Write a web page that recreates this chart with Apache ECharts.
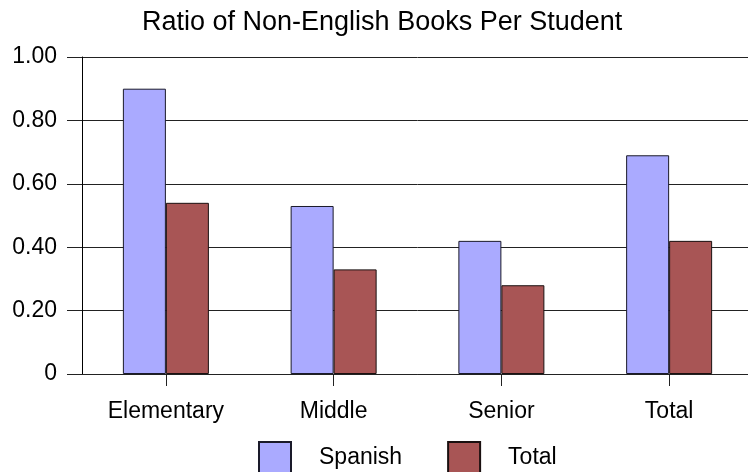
<!DOCTYPE html>
<html>
<head>
<meta charset="utf-8">
<script src="https://cdn.jsdelivr.net/npm/echarts@6/dist/echarts.min.js"></script>
<style>
  html, body { margin: 0; padding: 0; background: #ffffff; overflow: hidden; }
  /* canvas is a little wider than the page so the plot runs off the right edge */
  #chart { width: 753px; height: 472px; }
</style>
</head>
<body>
<div id="chart"></div>
<script>
// School levels along the x axis
const categories = ['Elementary', 'Middle', 'Senior', 'Total'];
// Ratio of non-English books per student
const spanishValues = [0.90, 0.53, 0.42, 0.69];
const totalValues = [0.54, 0.33, 0.28, 0.42];
const seriesNames = ['Spanish', 'Total'];
const chartTitle = 'Ratio of Non-English Books Per Student';

const FONT = '"Liberation Sans", Arial, sans-serif';

const chart = echarts.init(document.getElementById('chart'), null, { renderer: 'canvas' });

chart.setOption({
  animation: false,
  backgroundColor: '#ffffff',
  title: {
    text: chartTitle,
    left: 142,
    top: 9,
    padding: 0,
    textStyle: { fontFamily: FONT, fontSize: 27, fontWeight: 'normal', color: '#000000' }
  },
  legend: {
    data: seriesNames,
    left: 258,
    top: 441,
    padding: 0,
    itemWidth: 32,
    itemHeight: 32,
    itemGap: 45,
    icon: 'rect',
    textStyle: { fontFamily: FONT, fontSize: 23, color: '#000000', padding: [0, 0, 0, 23] }
  },
  grid: { left: 82, right: 0, top: 57, bottom: 98, containLabel: false },
  xAxis: {
    type: 'category',
    data: categories,
    boundaryGap: true,
    axisLine: { show: true, lineStyle: { color: '#222222', width: 1 } },
    axisTick: { show: true, alignWithLabel: true, length: 12, lineStyle: { color: '#222222' } },
    axisLabel: { fontFamily: FONT, fontSize: 23, color: '#000000', margin: 26 },
    splitLine: { show: false }
  },
  yAxis: {
    type: 'value',
    min: 0,
    max: 1,
    interval: 0.2,
    axisLine: { show: true, lineStyle: { color: '#000000', width: 1 } },
    axisTick: { show: true, inside: false, length: 15, lineStyle: { color: '#222222' } },
    axisLabel: {
      fontFamily: FONT, fontSize: 23, color: '#000000', margin: 25,
      formatter: v => (v === 0 ? '0' : v.toFixed(2))
    },
    splitLine: { show: true, lineStyle: { color: '#222222', width: 1 } }
  },
  series: [
    {
      name: seriesNames[0],
      type: 'bar',
      data: spanishValues,
      barWidth: 43,
      barGap: '0%',
      itemStyle: { color: '#aaaaff', borderColor: '#1a1a2a', borderWidth: 1 }
    },
    {
      name: seriesNames[1],
      type: 'bar',
      data: totalValues,
      barWidth: 43,
      barGap: '0%',
      itemStyle: { color: '#a85555', borderColor: '#1a1010', borderWidth: 1 }
    }
  ]
});
</script>
</body>
</html>
